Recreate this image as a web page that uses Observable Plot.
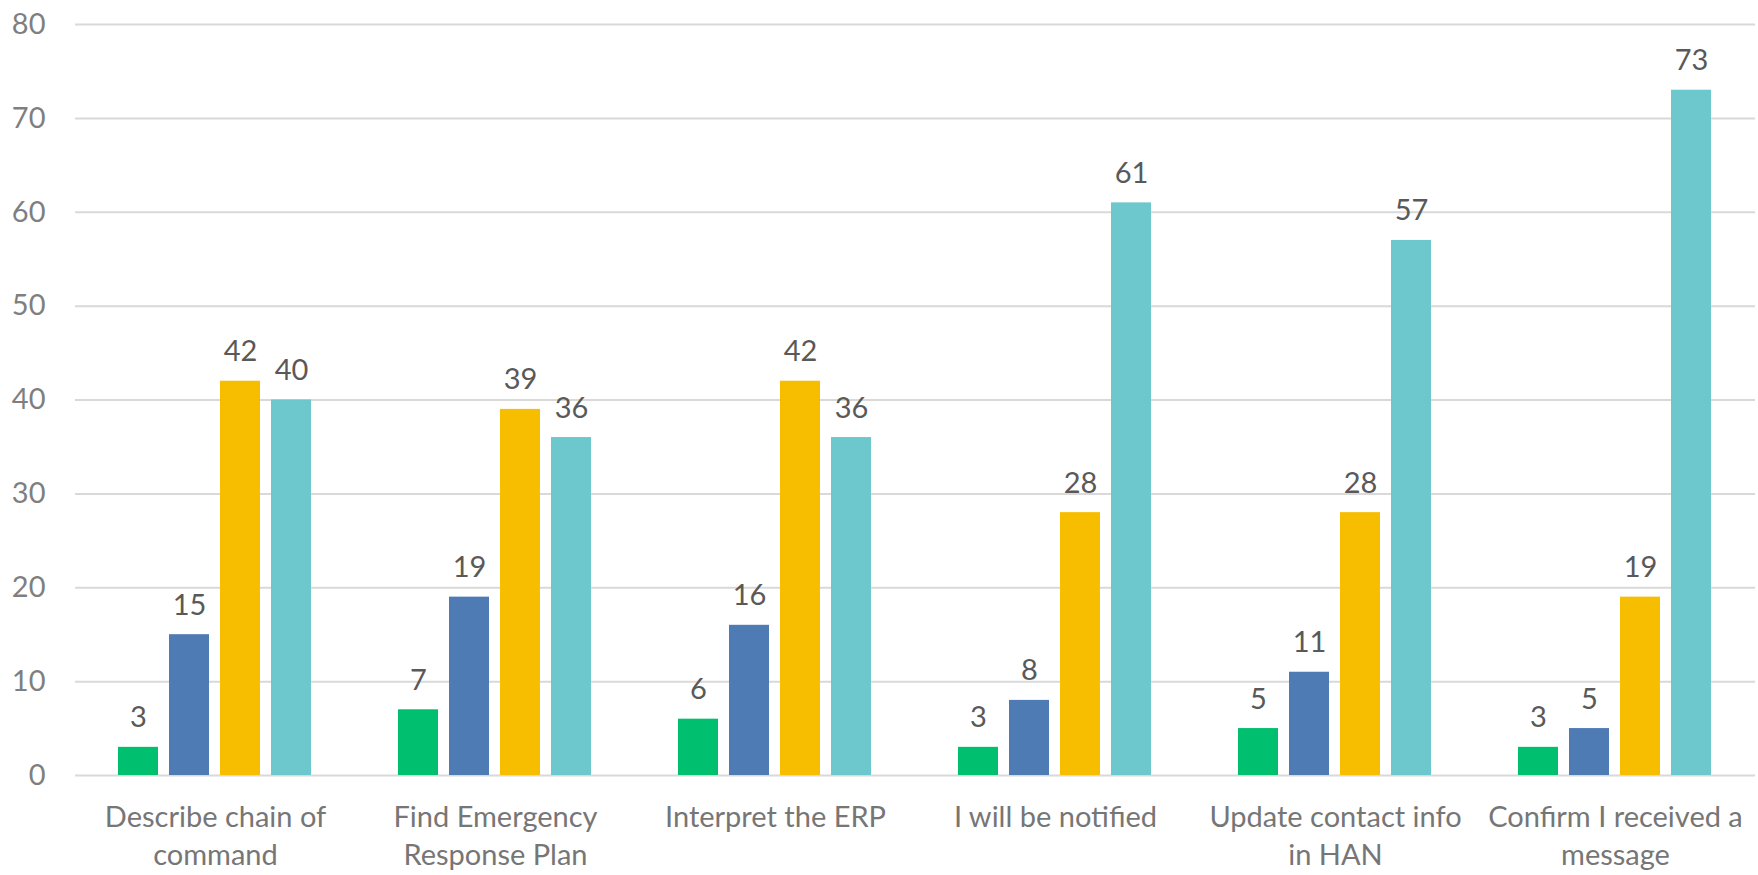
<!DOCTYPE html>
<html>
<head>
<meta charset="utf-8">
<script src="https://cdn.jsdelivr.net/npm/d3@7"></script>
<script src="https://cdn.jsdelivr.net/npm/@observablehq/plot@0.6"></script>
<style>
  html, body { margin: 0; padding: 0; background: #fff; }
  #chart svg { display: block; }
</style>
</head>
<body>
<div id="chart"></div>
<script>
const categories = [
  "Describe chain of command",
  "Find Emergency Response Plan",
  "Interpret the ERP",
  "I will be notified",
  "Update contact info in HAN",
  "Confirm I received a message"
];
const categoryLabels = [
  "Describe chain of\ncommand",
  "Find Emergency\nResponse Plan",
  "Interpret the ERP",
  "I will be notified",
  "Update contact info\nin HAN",
  "Confirm I received a\nmessage"
];
const series = ["S1", "S2", "S3", "S4"];
const seriesColors = ["#00BF6F", "#4E7BB4", "#F7BE00", "#6CC8CC"];
const s1 = [3, 7, 6, 3, 5, 3];
const s2 = [15, 19, 16, 8, 11, 5];
const s3 = [42, 39, 42, 28, 28, 19];
const s4 = [40, 36, 36, 61, 57, 73];
const yTicks = [0, 10, 20, 30, 40, 50, 60, 70, 80];

const values = [s1, s2, s3, s4];
const data = [];
categories.forEach((c, i) => {
  series.forEach((s, j) => data.push({category: c, series: s, value: values[j][i]}));
});
const labelOf = new Map(categories.map((c, i) => [c, categoryLabels[i]]));

const font = "Lato, 'Open Sans', sans-serif";
const fs = 29;

const chart = Plot.plot({
  width: 1758,
  height: 875,
  marginTop: 24,
  marginBottom: 100,
  marginLeft: 73,
  marginRight: 1,
  style: {fontFamily: font, fontSize: fs + "px", background: "#fff"},
  fx: {domain: categories, padding: 0, label: null},
  x: {domain: series, paddingInner: 0.21, paddingOuter: 0.85, axis: null},
  y: {domain: [0, 80], label: null},
  color: {domain: series, range: seriesColors},
  marks: [
    Plot.gridY(yTicks, {stroke: "#d9d9d9", strokeOpacity: 1, strokeWidth: 2}),
    Plot.axisY(yTicks, {tickSize: 0, tickPadding: 30, fontSize: fs, fill: "#7f7f7f", label: null, tickFormat: d => String(d)}),
    Plot.axisFx({anchor: "bottom", tickSize: 0, tickPadding: 25, fontSize: fs, fill: "#767676", label: null, lineHeight: 1.3, tickFormat: d => labelOf.get(d)}),
    Plot.barY(data, {fx: "category", x: "series", y: "value", fill: "series"}),
    Plot.text(data, {fx: "category", x: "series", y: "value", text: d => String(d.value), dy: -20, lineAnchor: "bottom", fill: "#595959", fontSize: fs})
  ]
});
document.getElementById("chart").appendChild(chart);
</script>
</body>
</html>
